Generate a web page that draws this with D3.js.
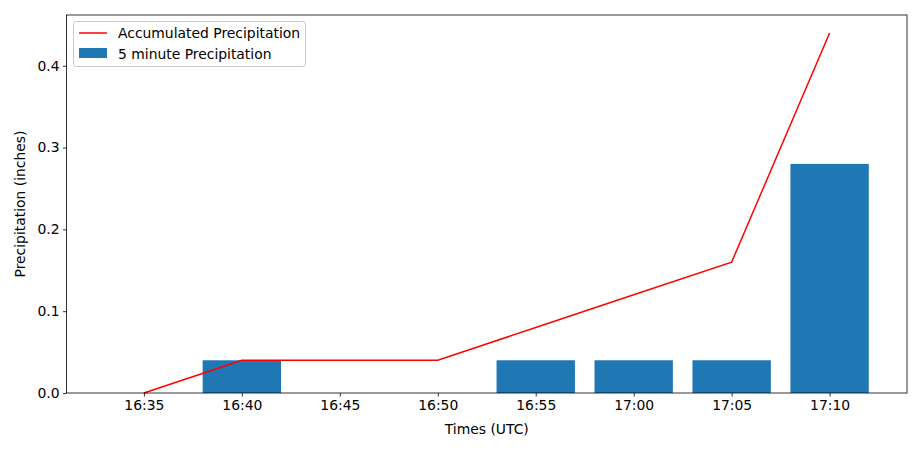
<!DOCTYPE html>
<html><head><meta charset="utf-8">
<script src="https://cdn.jsdelivr.net/npm/d3@7"></script>
<style>body{margin:0;background:#fff;} text{font-family:"DejaVu Sans",sans-serif;}</style>
</head><body>
<svg id="chart" width="922" height="451"></svg>
<script>
const times = ["16:35","16:40","16:45","16:50","16:55","17:00","17:05","17:10"];
const fiveMinute = [0, 0.04, 0, 0, 0.04, 0.04, 0.04, 0.28];
const accumulated = [0, 0.04, 0.04, 0.04, 0.08, 0.12, 0.16, 0.44];
const yTicks = [0.0, 0.1, 0.2, 0.3, 0.4];

const FS = "13.9px";
const svg = d3.select("#chart");
const L = 66.5, R = 907, T = 15, B = 393;
const x = d3.scaleLinear().domain([-0.79, 7.79]).range([L, R]);
const y = d3.scaleLinear().domain([0, 0.462]).range([B, T]);
const idx = times.map((d,i)=>i);

svg.append("g").selectAll("rect").data(fiveMinute).join("rect")
  .attr("x",(d,i)=>x(i-0.4)).attr("width",x(0.8)-x(0))
  .attr("y",d=>y(d)).attr("height",d=>B-y(d)).attr("fill","#1f77b4");

svg.append("path").datum(accumulated)
  .attr("d", d3.line().x((d,i)=>x(i)).y(d=>y(d)))
  .attr("fill","none").attr("stroke","#ff0000").attr("stroke-width",1.5);

const xAxis = svg.append("g").attr("transform",`translate(0,${B})`)
  .call(d3.axisBottom(x).tickValues(idx).tickFormat(i=>times[i]).tickSize(3.5).tickPadding(3.5).tickSizeOuter(0));
const yAxis = svg.append("g").attr("transform",`translate(${L},0)`)
  .call(d3.axisLeft(y).tickValues(yTicks).tickFormat(d3.format(".1f")).tickSize(3.5).tickPadding(3.5).tickSizeOuter(0));
[xAxis,yAxis].forEach(g=>{g.selectAll("text").attr("font-size",FS).attr("fill","#000");
  g.selectAll("line").attr("stroke","#000").attr("stroke-width",0.8); g.select(".domain").remove();});

svg.append("rect").attr("x",L).attr("y",T).attr("width",R-L).attr("height",B-T)
  .attr("fill","none").attr("stroke","#000").attr("stroke-width",0.8);

svg.append("text").attr("x",(L+R)/2).attr("y",434).attr("text-anchor","middle")
  .attr("font-size",FS).text("Times (UTC)");
svg.append("text").attr("transform",`translate(25,${(T+B)/2}) rotate(-90)`).attr("text-anchor","middle")
  .attr("font-size",FS).text("Precipitation (inches)");

const lg = svg.append("g");
lg.append("rect").attr("x",73.5).attr("y",21.5).attr("width",232).attr("height",45).attr("rx",2.5)
  .attr("fill","#fff").attr("fill-opacity",0.8).attr("stroke","#cccccc").attr("stroke-width",1);
lg.append("line").attr("x1",79).attr("x2",107).attr("y1",33).attr("y2",33).attr("stroke","#ff0000").attr("stroke-width",1.5);
lg.append("rect").attr("x",79).attr("y",48).attr("width",28).attr("height",10).attr("fill","#1f77b4");
lg.append("text").attr("x",118).attr("y",38).attr("font-size",FS).text("Accumulated Precipitation");
lg.append("text").attr("x",118).attr("y",59).attr("font-size",FS).text("5 minute Precipitation");
</script>
</body></html>
